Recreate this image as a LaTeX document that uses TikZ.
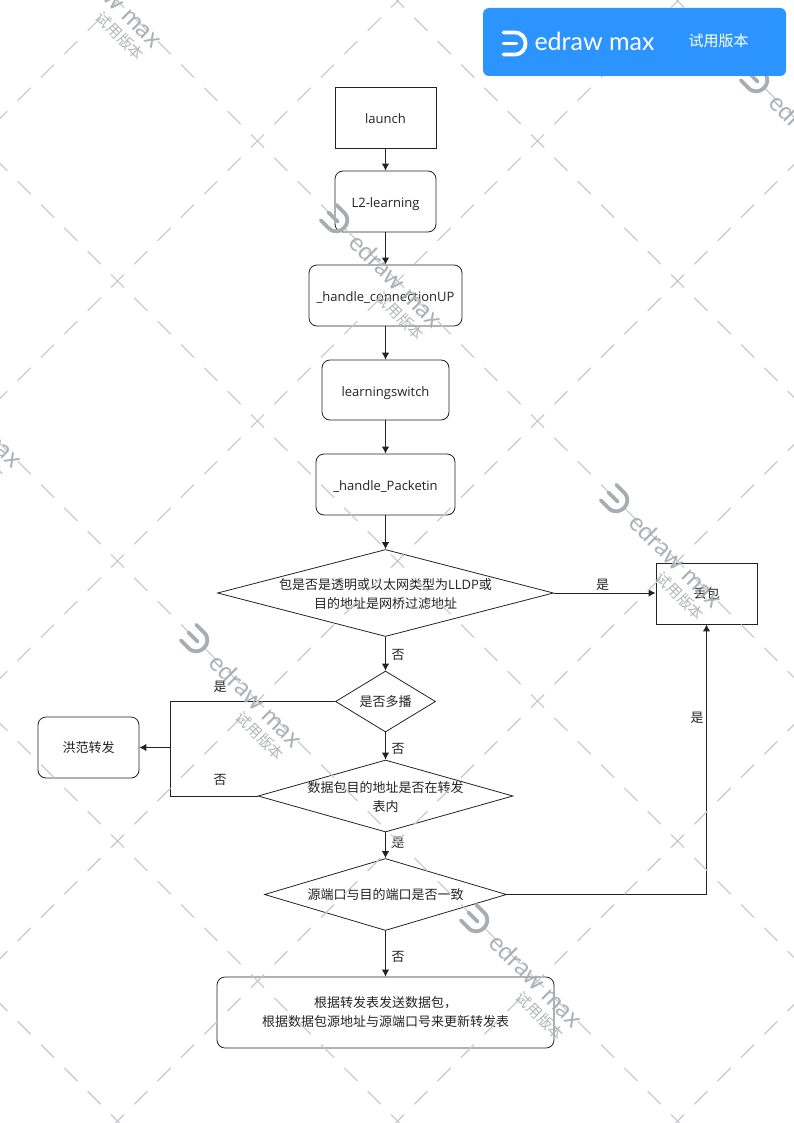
\documentclass[tikz,border=0pt]{standalone}
\usepackage{fontspec}
\setmainfont{Open Sans}
\newfontfamily\cjk{Noto Sans CJK SC}
\newfontfamily\logofont{Lato}
\usetikzlibrary{shapes.geometric,arrows.meta}
\definecolor{ink}{HTML}{222222}
\definecolor{wmline}{HTML}{C6C8CE}
\definecolor{wmtext}{HTML}{A9ACB3}
\definecolor{bannerblue}{HTML}{2B94FF}
\tikzset{
  x=1pt,y=-1pt,
  every node/.style={font=\fontsize{13}{19}\selectfont,text=ink,align=center,inner sep=0pt},
  plainbox/.style={draw=ink,line width=0.9pt,minimum width=#1,minimum height=61pt},
  roundbox/.style={plainbox=#1,rounded corners=8pt,line width=0.8pt},
  oneline/.style={text height=12pt,text depth=0pt},
  decision/.style 2 args={diamond,draw=ink,line width=0.8pt,minimum width=#1,minimum height=#2},
  link/.style={draw=ink,line width=1pt},
  arrowlink/.style={link,-{Latex[length=7pt,width=7.5pt]}},
  wmdash/.style={draw=wmline,line width=1.4pt,dash pattern=on 18.4pt off 14.6pt},
}
\newcommand\logomark[1]{%
  \draw[#1,line cap=round,line width=3.8pt]
    (-91,-11) -- (-80,-11) .. controls (-65.3,-11) and (-65.3,11) .. (-80,11) -- (-91,11);
  \draw[#1,line cap=round,line width=3.8pt] (-91,0) -- (-78,0);
}
\newcommand\wmark[2]{%
  \begin{scope}[shift={(#1,#2)},rotate=-45]
    \begin{scope}[xshift=-6pt]\logomark{wmtext}\end{scope}
    \node[rotate=-45,font=\logofont\fontsize{25}{25}\selectfont,text=wmtext,opacity=.95] (wmname#1x#2) at (-1,0) {edraw max};
    \node[rotate=-45,font=\cjk\fontsize{15}{15}\selectfont,text=wmtext,opacity=.9] (wmtrial#1x#2) at (27,22.6) {试用版本};
  \end{scope}}
\begin{document}
\begin{tikzpicture}
\useasboundingbox (0,0) rectangle (794,1123);
% process boxes
\node[plainbox=101pt,oneline] (launch) at (385.5,117.5) {launch};
\node[roundbox=101pt,oneline] (l2) at (385.5,201.5) {L2-learning};
\node[roundbox=153pt,oneline] (conn) at (385.5,295.5) {\_handle\_connectionUP};
\node[roundbox=127pt,minimum height=60pt,oneline] (sw) at (385.5,390) {learningswitch};
\node[roundbox=139pt,oneline] (pkt) at (385.5,484.5) {\_handle\_Packetin};
\node[decision={336pt}{87pt},label={[align=center,yshift=-1pt]center:{\cjk 包是否是透明或以太网类型为}LLDP{\cjk 或}\\{\cjk 目的地址是网桥过滤地址}}] (d1) at (385.5,593) {};
\node[plainbox=101pt] (drop) at (706.5,593.5) {\cjk 丢包};
\node[decision={100pt}{61pt},label={[align=center]center:{\cjk 是否多播}}] (d2) at (385.5,701.5) {};
\node[roundbox=101pt] (flood) at (88.5,747.5) {\cjk 洪范转发};
\node[decision={255pt}{72pt},label={[align=center,yshift=-1pt]center:{\cjk 数据包目的地址是否在转发}\\{\cjk 表内}}] (d3) at (385.5,796) {};
\node[decision={242pt}{72pt},label={[align=center]center:{\cjk 源端口与目的端口是否一致}}] (d4) at (385.5,894.5) {};
\node[roundbox=337pt,minimum height=71pt] (send) at (385.5,1012.5) {\cjk 根据转发表发送数据包，\\\cjk 根据数据包源地址与源端口号来更新转发表};
% connectors
\coordinate (floodjoin) at (170,747.5);
\coordinate (dropjoin) at (706.5,894.5);
\draw[arrowlink] (launch) -- (l2);
\draw[arrowlink] (l2) -- (conn);
\draw[arrowlink] (conn) -- (sw);
\draw[arrowlink] (sw) -- (pkt);
\draw[arrowlink] (pkt) -- (d1.north);
\draw[arrowlink] (d1.south) -- (d2.north);
\draw[arrowlink] (d2.south) -- (d3.north);
\draw[arrowlink] (d3.south) -- (d4.north);
\draw[arrowlink] (d4.south) -- (send);
\draw[arrowlink] (d1.east) -- (d1.east -| drop.west);
\draw[link] (d2.west) -| (floodjoin);
\draw[link] (d3.west) -| (floodjoin);
\draw[arrowlink] (floodjoin) -- (flood.east);
\draw[link] (d4.east) -- (dropjoin);
\draw[arrowlink] (dropjoin) -- (drop.south);
% edge labels
\node (lyes1) at (602.5,584.5) {\cjk 是};
\node (lno1) at (398,654.5) {\cjk 否};
\node (lyes2) at (220,686.5) {\cjk 是};
\node (lno2) at (398,748.5) {\cjk 否};
\node (lno3) at (220,780) {\cjk 否};
\node (lyes3) at (398,843) {\cjk 是};
\node (lyes4) at (697,717.5) {\cjk 是};
\node (lno4) at (398,956.5) {\cjk 否};
% watermark
\begin{scope}
  \clip (0,0) rectangle (794,1123);
  \begin{scope}[opacity=.9]
  \foreach \d in {-1003.5,-723.5,-443.5,-163.5,116.5,396.5,676.5}
    \draw[wmdash] ({-145.5+\d},-145.5) -- ({1300+\d},1300);
  \foreach \s in {118.5,398.5,678.5,958.5,1238.5,1518.5,1798.5}
    \draw[wmdash] ({\s+145.5},-145.5) -- ({\s-1300},1300);
  \end{scope}
  \wmark{117}{1}
  \wmark{817}{141}
  \wmark{397}{281}
  \wmark{-23}{421}
  \wmark{677}{561}
  \wmark{257}{701}
  \wmark{537}{981}
\end{scope}
% banner
\node[fill=bannerblue,rounded corners=6pt,minimum width=303pt,minimum height=68pt] (banner) at (634.5,42) {};
\begin{scope}[shift={(594.5,43.5)}]
  \logomark{white}
\end{scope}
\node[font=\logofont\fontsize{25}{25}\selectfont,text=white] (brand) at (594.5,41) {edraw max};
\node[font=\cjk\fontsize{15}{15}\selectfont,text=white] (trial) at (718.5,41) {试用版本};
\end{tikzpicture}
\end{document}
